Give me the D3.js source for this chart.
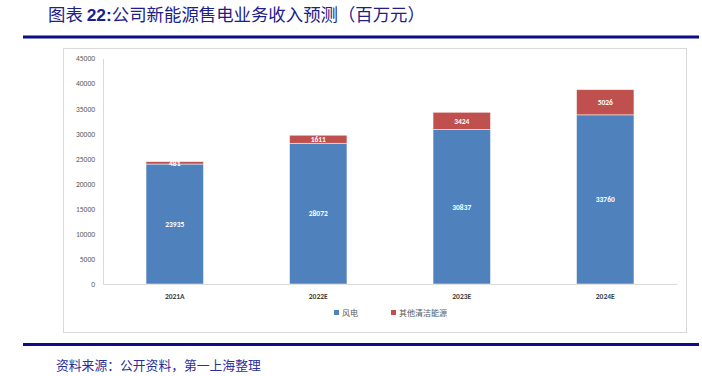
<!DOCTYPE html>
<html><head><meta charset="utf-8">
<script src="https://cdn.jsdelivr.net/npm/d3@7/dist/d3.min.js"></script>
<style>
html,body{margin:0;padding:0;background:#fff;}
svg{display:block;}
</style></head>
<body>
<svg id="c" width="702" height="376"></svg>
<script>
const categories = ["2021A", "2022E", "2023E", "2024E"];
const seriesNames = ["风电", "其他清洁能源"];
const windValues = [23935, 28072, 30837, 33760];
const otherValues = [481, 1611, 3424, 5026];
const yTicks = [0, 5000, 10000, 15000, 20000, 25000, 30000, 35000, 40000, 45000];
const colors = ["#4f81bd", "#c0504d"];

const svg = d3.select("#c");
const navy = "#0d0d8a";

// Title
const title = svg.append("text").attr("x", 48).attr("y", 21)
  .attr("font-family", "'Noto Sans CJK SC', sans-serif").attr("font-size", 17.4).attr("fill", "#1d2088");
title.append("tspan").text("图表 ");
title.append("tspan").attr("font-family", "Arial, 'Liberation Sans', sans-serif").attr("font-weight", "bold").text("22:");
title.append("tspan").text("公司新能源售电业务收入预测（百万元）");

svg.append("rect").attr("x", 23).attr("y", 35.5).attr("width", 676).attr("height", 3).attr("fill", navy);
svg.append("rect").attr("x", 23).attr("y", 343).attr("width", 676).attr("height", 3).attr("fill", navy);

svg.append("text").attr("x", 56).attr("y", 369.5)
  .attr("font-family", "'Noto Sans CJK SC', sans-serif").attr("font-size", 12.8).attr("fill", "#2b2f9a")
  .text("资料来源：公开资料，第一上海整理");

// Chart frame
svg.append("rect").attr("x", 63.5).attr("y", 48.5).attr("width", 623).attr("height", 284)
  .attr("fill", "#fff").attr("stroke", "#d9d9d9").attr("stroke-width", 1);

const x = d3.scaleBand().domain(categories).range([103, 677]).paddingInner(0.6).paddingOuter(0.3);
const y = d3.scaleLinear().domain([0, 45000]).range([284, 58.5]);

const data = categories.map((c, i) => ({cat: c, vals: [windValues[i], otherValues[i]]}));
const stack = d3.stack().keys([0, 1]).value((d, k) => d.vals[k]);
const series = stack(data);

// Y axis
const yAxis = d3.axisLeft(y).tickValues(yTicks).tickFormat(d3.format("d")).tickSize(0).tickPadding(8);
const gy = svg.append("g").attr("transform", "translate(103,0)").call(yAxis);
gy.select(".domain").attr("stroke", "#d9d9d9");
gy.selectAll("text").attr("font-family", "Calibri, Carlito, 'Liberation Sans', sans-serif").attr("font-size", 7.5).attr("fill", "#595959");

// Baseline
const xAxis = d3.axisBottom(x).tickSize(0).tickPadding(10);
const gx = svg.append("g").attr("transform", "translate(0,284)").call(xAxis);
gx.select(".domain").attr("stroke", "#d9d9d9");
gx.selectAll("text").attr("font-family", "Calibri, Carlito, 'Liberation Sans', sans-serif").attr("font-size", 7.5).attr("font-weight", "bold").attr("fill", "#404040");

// Bars
series.forEach((s, si) => {
  const g = svg.append("g");
  g.selectAll("rect").data(s).enter().append("rect")
    .attr("x", d => x(d.data.cat)).attr("width", x.bandwidth())
    .attr("y", d => y(d[1])).attr("height", d => y(d[0]) - y(d[1]))
    .attr("fill", colors[si]).attr("stroke", "rgba(255,255,255,0.6)").attr("stroke-width", 0.8);
  g.selectAll("text").data(s).enter().append("text")
    .attr("x", d => x(d.data.cat) + x.bandwidth() / 2)
    .attr("y", d => (y(d[0]) + y(d[1])) / 2 + 2.8)
    .attr("text-anchor", "middle")
    .attr("font-family", "Calibri, Carlito, 'Liberation Sans', sans-serif").attr("font-size", 7.5).attr("font-weight", "bold")
    .attr("fill", "#fff").text(d => d.data.vals[si]);
});

// Legend
const legX = [334, 391];
seriesNames.forEach((n, i) => {
  svg.append("rect").attr("x", legX[i]).attr("y", 310).attr("width", 5).attr("height", 5).attr("fill", colors[i]);
  svg.append("text").attr("x", legX[i] + 8).attr("y", 315.5)
    .attr("font-family", "'Noto Sans CJK SC', sans-serif").attr("font-size", 8).attr("fill", "#595959").text(n);
});
</script>
</body></html>
